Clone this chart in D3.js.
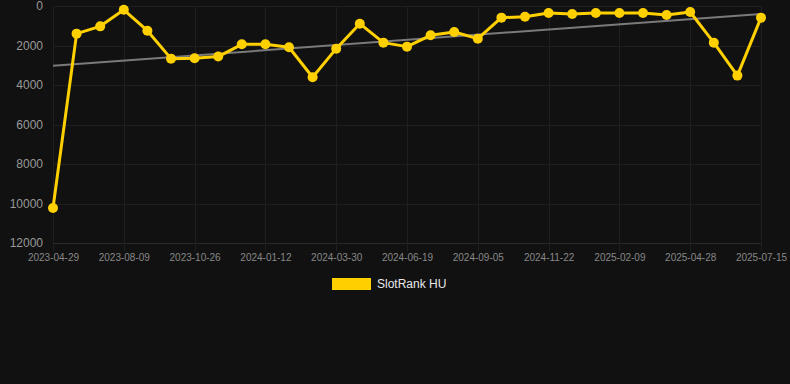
<!DOCTYPE html>
<html><head><meta charset="utf-8">
<script src="https://cdn.jsdelivr.net/npm/d3@7"></script>
<style>html,body{margin:0;padding:0;background:#111111;}svg{display:block;}</style>
</head><body>
<svg id="c" width="790" height="384"></svg>
<script>
const categories = ["2023-04-29","2023-06-03","2023-07-07","2023-08-09","2023-09-04","2023-09-30","2023-10-26","2023-11-21","2023-12-17","2024-01-12","2024-02-07","2024-03-04","2024-03-30","2024-04-26","2024-05-23","2024-06-19","2024-07-15","2024-08-10","2024-09-05","2024-10-01","2024-10-27","2024-11-22","2024-12-18","2025-01-14","2025-02-09","2025-03-07","2025-04-02","2025-04-28","2025-05-24","2025-06-19","2025-07-15"];
const rankValues = [10230,1400,1030,190,1250,2665,2650,2560,1940,1940,2090,3610,2160,895,1855,2057,1483,1315,1652,590,540,354,405,354,354,354,455,303,1855,3525,590];
const trendValues = [3030, 400];
const yTicks = [0,2000,4000,6000,8000,10000,12000];
const xTickLabels = ["2023-04-29","2023-08-09","2023-10-26","2024-01-12","2024-03-30","2024-06-19","2024-09-05","2024-11-22","2025-02-09","2025-04-28","2025-07-15"];
const seriesName = "SlotRank HU";

const svg = d3.select("#c");
const font = "'Liberation Sans', Arial, sans-serif";
const x = d3.scalePoint().domain(categories).range([53, 761]);
const y = d3.scaleLinear().domain([0, 12000]).range([6, 243]);

// grid
const grid = svg.append("g");
grid.selectAll("line.h").data(yTicks).join("line")
  .attr("x1", 53).attr("x2", 761)
  .attr("y1", d => Math.round(y(d)) + 0.5).attr("y2", d => Math.round(y(d)) + 0.5)
  .attr("stroke", d => d === 12000 ? "#2a2a2a" : "#1f1f1f").attr("stroke-width", 1);
grid.selectAll("line.v").data(xTickLabels).join("line")
  .attr("x1", d => Math.round(x(d)) + 0.5).attr("x2", d => Math.round(x(d)) + 0.5)
  .attr("y1", y(0)).attr("y2", y(12000) + 8)
  .attr("stroke", "#1f1f1f").attr("stroke-width", 1);

// y axis
const yAxis = d3.axisLeft(y).tickValues(yTicks).tickSize(0).tickPadding(0).tickFormat(d3.format("d"));
const ya = svg.append("g").attr("transform", "translate(43,0)").call(yAxis);
ya.select(".domain").remove();
ya.selectAll("text").attr("fill", "#999").attr("font-size", 12).attr("font-family", font);

// x axis
const xAxis = d3.axisBottom(x).tickValues(xTickLabels).tickSize(0).tickPadding(0);
const xa = svg.append("g").attr("transform", "translate(0,254)").call(xAxis);
xa.select(".domain").remove();
xa.selectAll("text").attr("fill", "#888").attr("font-size", 10).attr("font-family", font).attr("dy", "0.71em");

// trend
const trendX = [categories[0], categories[categories.length - 1]];
svg.append("line")
  .attr("x1", x(trendX[0])).attr("y1", y(trendValues[0]))
  .attr("x2", x(trendX[1])).attr("y2", y(trendValues[1]))
  .attr("stroke", "#7a7a7a").attr("stroke-width", 2);

// series line
const line = d3.line().x((d, i) => x(categories[i])).y(d => y(d));
svg.append("path").datum(rankValues).attr("d", line)
  .attr("fill", "none").attr("stroke", "#ffd000").attr("stroke-width", 3).attr("stroke-linejoin", "round");
svg.append("g").selectAll("circle").data(rankValues).join("circle")
  .attr("cx", (d, i) => x(categories[i])).attr("cy", d => y(d)).attr("r", 5)
  .attr("fill", "#ffd000");

// legend
const lg = svg.append("g");
lg.append("rect").attr("x", 332).attr("y", 278).attr("width", 39).attr("height", 12)
  .attr("fill", "#ffd000");
lg.append("text").attr("x", 377).attr("y", 284).attr("dy", "0.35em")
  .attr("fill", "#e8e8e8").attr("font-size", 12).attr("font-family", font).text(seriesName);
</script>
</body></html>
